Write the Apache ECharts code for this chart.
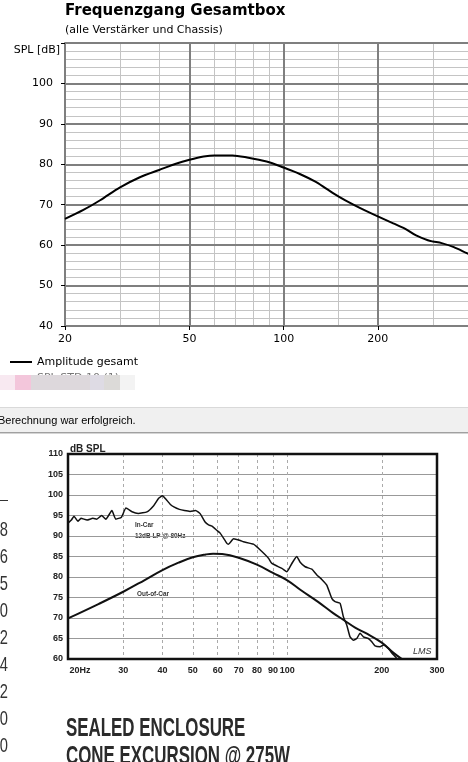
<!DOCTYPE html>
<html>
<head>
<meta charset="utf-8">
<script src="https://cdn.jsdelivr.net/npm/echarts@6/dist/echarts.min.js"></script>
<style>
html,body{margin:0;padding:0;background:#fff;overflow:hidden;}
#c{width:468px;height:762px;}
</style>
</head>
<body>
<div id="c"></div>
<script>
// ---- Upper chart: Frequenzgang Gesamtbox ----
const topFreq = [20, 22.9, 25.9, 30, 34.7, 40, 45.5, 50, 55.5, 60, 68.6, 76.4, 88.2, 100, 112.6, 126.3, 137.2, 150, 167.1, 184, 200, 224, 244, 265, 289, 300, 320, 350, 388, 400];
const topSpl  = [66.5, 68.7, 71.1, 74.3, 76.8, 78.6, 80.2, 81.1, 81.9, 82.2, 82.2, 81.7, 80.7, 79.2, 77.6, 75.7, 73.9, 72.0, 70.0, 68.4, 67.1, 65.4, 64.1, 62.4, 61.2, 60.9, 60.5, 59.5, 57.9, 57.5];
const topMajorX = [20, 50, 100, 200];
const topMinorX = [30, 40, 60, 70, 80, 90, 150, 300];

// ---- Lower chart: In-Car / Out-of-Car ----
const inCarFreq = [20, 20.5, 20.9, 21.5, 22.0, 23.0, 24.0, 24.7, 25.6, 26.4, 27.6, 28.4, 29.6, 30.6, 32.0, 33.5, 35.7, 37.5, 38.9, 40.0, 41.0, 42.4, 43.5, 45.3, 47.0, 49.0, 51.0, 52.8, 54.7, 56.1, 57.5, 59.6, 61.1, 64.2, 64.9, 67.4, 70.8, 72.5, 78.0, 82.0, 87.1, 89.3, 96.1, 99.7, 103.4, 107.2, 109.9, 114.0, 119.7, 124.2, 128.8, 133.6, 138.6, 142.0, 147.3, 150.9, 154.7, 158.5, 162.4, 166.5, 170.6, 174.8, 181.3, 185.9, 190.4, 197.5, 202.4, 210, 215, 220.6, 223];
const inCarSpl  = [93.1, 93.9, 94.8, 93.6, 94.3, 93.9, 94.3, 94.1, 95.0, 94.1, 96.2, 94.1, 94.6, 96.8, 95.9, 95.5, 95.9, 97.4, 99.2, 99.8, 99.0, 97.7, 97.1, 96.5, 96.2, 96.0, 96.2, 95.4, 93.4, 92.7, 92.4, 91.4, 90.7, 88.2, 88.0, 89.3, 88.9, 88.6, 88.0, 86.6, 84.6, 83.3, 82.1, 81.3, 83.3, 85.0, 83.6, 82.5, 81.9, 80.5, 79.4, 78.0, 74.8, 74.0, 73.6, 70.3, 68.3, 65.4, 64.6, 65.0, 66.3, 65.4, 65.0, 64.2, 63.2, 63.0, 63.4, 62.6, 61.5, 60.6, 60.2];
const outCarFreq = [20, 25, 30, 35, 40, 45, 50, 55, 58, 62, 70, 80, 90, 100, 110, 125, 140, 152, 165, 180, 200, 218, 232];
const outCarSpl  = [69.9, 73.4, 76.4, 79.2, 81.7, 83.5, 84.8, 85.5, 85.7, 85.6, 84.7, 83.0, 81.0, 79.2, 76.9, 74.0, 71.2, 69.4, 67.6, 66.1, 64.0, 61.5, 60.0];
const lowGridX = [30, 40, 50, 60, 70, 80, 90, 100, 200];
const lowLabelX = [20, 30, 40, 50, 60, 70, 80, 90, 100, 200, 300];

// cut-off digits of neighbouring table at left
const sideDigits = ['8', '6', '5', '0', '2', '4', '2', '0', '0'];

const pairs = (xs, ys) => xs.map((x, i) => [x, ys[i]]);
const UI = '"DejaVu Sans", Verdana, sans-serif';
const COND = '"DejaVu Sans Condensed", "Liberation Sans", Arial, sans-serif';
const SANS = '"Liberation Sans", Arial, sans-serif';

const chart = echarts.init(document.getElementById('c'), null, {renderer: 'canvas'});

const graphics = [
  {type: 'text', style: {x: 65, y: 11, text: 'Frequenzgang Gesamtbox', font: 'bold 15px ' + UI, fill: '#000', verticalAlign: 'middle'}},
  {type: 'text', style: {x: 65, y: 30, text: '(alle Verstärker und Chassis)', font: '11px ' + UI, fill: '#000', verticalAlign: 'middle'}},
  {type: 'text', style: {x: 60, y: 50, text: 'SPL [dB]', font: '11px ' + UI, fill: '#000', align: 'right', verticalAlign: 'middle'}},
  {type: 'line', shape: {x1: 10, y1: 362, x2: 32, y2: 362}, style: {stroke: '#000', lineWidth: 2}},
  {type: 'text', style: {x: 37, y: 362, text: 'Amplitude gesamt', font: '11px ' + UI, fill: '#000', verticalAlign: 'middle'}},
  {type: 'text', style: {x: 37, y: 378, text: 'SPL STD 10 (1)', font: '11px ' + UI, fill: '#777', verticalAlign: 'middle'}},
  {type: 'rect', shape: {x: 0, y: 375, width: 15, height: 15}, style: {fill: '#f8e9f1'}},
  {type: 'rect', shape: {x: 15, y: 375, width: 16, height: 15}, style: {fill: '#f3c6db'}},
  {type: 'rect', shape: {x: 31, y: 375, width: 59, height: 15}, style: {fill: '#ddd8dc'}},
  {type: 'rect', shape: {x: 90, y: 375, width: 14, height: 15}, style: {fill: '#dedbe4'}},
  {type: 'rect', shape: {x: 104, y: 375, width: 16, height: 15}, style: {fill: '#dcdad8'}},
  {type: 'rect', shape: {x: 120, y: 375, width: 15, height: 15}, style: {fill: '#f3f3f3'}},
  // status bar
  {type: 'rect', shape: {x: 0, y: 407, width: 468, height: 26}, style: {fill: '#f0f0f0'}},
  {type: 'line', shape: {x1: 0, y1: 407.5, x2: 468, y2: 407.5}, style: {stroke: '#d9d9d9', lineWidth: 1}},
  {type: 'line', shape: {x1: 0, y1: 432.5, x2: 468, y2: 432.5}, style: {stroke: '#a0a0a0', lineWidth: 1}},
  {type: 'line', shape: {x1: 0, y1: 433.5, x2: 468, y2: 433.5}, style: {stroke: '#d4d4d4', lineWidth: 1}},
  {type: 'text', style: {x: -2, y: 421, text: 'Berechnung war erfolgreich.', font: '11px ' + SANS, fill: '#000', verticalAlign: 'middle'}},
  // lower chart texts
  {type: 'text', style: {x: 70, y: 449, text: 'dB SPL', font: 'bold 10px ' + SANS, fill: '#222', verticalAlign: 'middle'}},
  {type: 'text', x: 135, y: 525, scaleX: 0.8, style: {x: 0, y: 0, text: 'In-Car', font: 'bold 8px ' + SANS, fill: '#333', verticalAlign: 'middle'}},
  {type: 'text', x: 135, y: 536, scaleX: 0.8, style: {x: 0, y: 0, text: '12dB LP @ 80Hz', font: 'bold 8px ' + SANS, fill: '#333', verticalAlign: 'middle'}},
  {type: 'text', x: 137, y: 594, scaleX: 0.8, style: {x: 0, y: 0, text: 'Out-of-Car', font: 'bold 8px ' + SANS, fill: '#333', verticalAlign: 'middle'}},
  {type: 'text', style: {x: 413, y: 651, text: 'LMS', font: 'italic 9px ' + SANS, fill: '#333', verticalAlign: 'middle'}},
  {type: 'line', shape: {x1: 0, y1: 500.5, x2: 8, y2: 500.5}, style: {stroke: '#333', lineWidth: 1}},
  {type: 'text', x: 66, y: 729, scaleX: 0.65, style: {x: 0, y: 0, text: 'SEALED ENCLOSURE', font: 'bold 26px ' + SANS, fill: '#2b2b2b', verticalAlign: 'middle'}},
  {type: 'text', x: 66, y: 757, scaleX: 0.65, style: {x: 0, y: 0, text: 'CONE EXCURSION @ 275W', font: 'bold 26px ' + SANS, fill: '#2b2b2b', verticalAlign: 'middle'}}
];
sideDigits.forEach((d, i) => {
  graphics.push({type: 'text', x: 8, y: 530 + i * 27, scaleX: 0.7, style: {x: 0, y: 0, text: d, font: '21px ' + SANS, fill: '#333', align: 'right', verticalAlign: 'middle'}});
});

const option = {
  animation: false,
  backgroundColor: '#fff',
  grid: [
    {left: 65, top: 43, width: 407, height: 283, containLabel: false, outerBoundsMode: 'none'},
    {left: 68, top: 454, width: 369, height: 205, containLabel: false, outerBoundsMode: 'none', show: true, borderColor: '#111', borderWidth: 2.5, backgroundColor: 'rgba(0,0,0,0)', z: 3}
  ],
  xAxis: [
    {gridIndex: 0, type: 'log', position: 'bottom', min: 20, max: 400, z: 0,
      axisLine: {show: false}, axisTick: {show: false, customValues: topMinorX},
      axisLabel: {show: false}, splitLine: {show: true, lineStyle: {color: '#c4c4c4', width: 1}}},
    {gridIndex: 0, type: 'log', position: 'bottom', min: 20, max: 400, z: 1,
      axisLine: {show: true, lineStyle: {color: '#7f7f7f', width: 2}},
      axisTick: {show: true, customValues: topMajorX, length: 4, lineStyle: {color: '#000', width: 1}},
      axisLabel: {show: true, customValues: topMajorX, margin: 8, fontSize: 11, fontFamily: 'DejaVu Sans', color: '#000'},
      splitLine: {show: true, lineStyle: {color: '#7f7f7f', width: 2}}},
    {gridIndex: 1, type: 'log', position: 'bottom', min: 20, max: 300,
      axisLine: {show: false}, axisTick: {show: false, customValues: lowGridX},
      axisLabel: {show: true, customValues: lowLabelX, margin: 7, fontSize: 9, fontWeight: 'bold', fontFamily: 'Liberation Sans', color: '#222',
        formatter: v => (v === 20 ? '{l|20Hz}' : String(v)),
        rich: {l: {fontSize: 9, fontWeight: 'bold', fontFamily: 'Liberation Sans', color: '#222', padding: [0, 0, 0, 24]}}},
      splitLine: {show: true, lineStyle: {color: '#aaa', width: 1, type: [3, 3]}}}
  ],
  yAxis: [
    {gridIndex: 0, type: 'value', position: 'left', min: 40, max: 110, interval: 2, z: 0,
      axisLine: {show: false}, axisTick: {show: false}, axisLabel: {show: false},
      splitLine: {show: true, lineStyle: {color: '#c4c4c4', width: 1}}},
    {gridIndex: 0, type: 'value', position: 'left', min: 40, max: 110, interval: 10, z: 1,
      axisLine: {show: true, lineStyle: {color: '#7f7f7f', width: 2}},
      axisTick: {show: true, length: 4, lineStyle: {color: '#000', width: 1}},
      axisLabel: {margin: 12, fontSize: 11, fontFamily: 'DejaVu Sans', color: '#000', formatter: v => (v === 110 ? '' : String(v))},
      splitLine: {show: true, lineStyle: {color: '#7f7f7f', width: 2}}},
    {gridIndex: 1, type: 'value', position: 'left', min: 60, max: 110, interval: 5,
      axisLine: {show: false}, axisTick: {show: false},
      axisLabel: {margin: 5, fontSize: 9, fontWeight: 'bold', fontFamily: 'Liberation Sans', color: '#222'},
      splitLine: {show: true, lineStyle: {color: '#999', width: 1}}}
  ],
  series: [
    {name: 'Amplitude gesamt', type: 'line', xAxisIndex: 1, yAxisIndex: 1, data: pairs(topFreq, topSpl),
      showSymbol: false, smooth: 0.3, lineStyle: {color: '#000', width: 2}, z: 5, silent: true},
    {name: 'In-Car', type: 'line', xAxisIndex: 2, yAxisIndex: 2, data: pairs(inCarFreq, inCarSpl),
      showSymbol: false, smooth: 0.15, lineStyle: {color: '#111', width: 1.5}, z: 5, silent: true},
    {name: 'Out-of-Car', type: 'line', xAxisIndex: 2, yAxisIndex: 2, data: pairs(outCarFreq, outCarSpl),
      showSymbol: false, smooth: 0.4, lineStyle: {color: '#111', width: 2}, z: 5, silent: true}
  ],
  graphic: {elements: graphics}
};
chart.setOption(option);
</script>
</body>
</html>
